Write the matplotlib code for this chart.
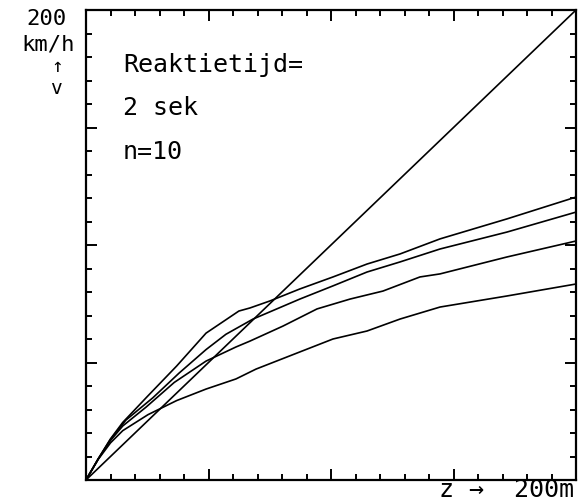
import matplotlib
matplotlib.use("Agg")
import matplotlib.pyplot as plt
from matplotlib.ticker import MultipleLocator

# afstand z [m] en snelheid v [km/h]
z_line = [0, 200]
v_line = [0, 200]

z_a = [0, 5, 10, 15, 25, 37, 49, 62.4, 66.9, 75.1, 87.3, 100.8, 114.7, 128.2, 144.5, 171.8, 200]
v_a = [0, 9, 17.5, 24.5, 35.5, 48.5, 62.5, 71.9, 73.2, 76.2, 81.3, 86.4, 91.9, 96.2, 102.6, 111.1, 120.4]

z_b = [0, 5, 10, 16.3, 27.3, 38.0, 49.0, 57.1, 68.2, 87.3, 100.8, 114.7, 128.2, 144.5, 171.8, 200]
v_b = [0, 9, 17.3, 25.5, 35.0, 45.5, 55.5, 62.0, 68.5, 77.0, 82.6, 88.5, 92.8, 98.3, 105.5, 114.0]

z_c = [0, 5, 10, 15, 24.5, 36, 49.0, 61.2, 66.9, 80.4, 94.3, 107.8, 121.2, 136.3, 144.5, 171.8, 200]
v_c = [0, 9, 16.8, 23.0, 31.0, 41.5, 50.6, 56.6, 59.1, 65.5, 72.8, 77.0, 80.4, 86.4, 87.7, 94.9, 101.7]

z_d = [0, 5, 10, 15, 25.3, 37, 49.0, 61.2, 69.4, 87.3, 100.8, 114.7, 128.2, 144.5, 171.8, 200]
v_d = [0, 8.8, 15.8, 21.0, 27.8, 33.8, 38.7, 43.0, 47.2, 54.5, 60.0, 63.4, 68.5, 73.6, 78.3, 83.4]

W, H = 584, 502
fig = plt.figure(figsize=(W / 100, H / 100), dpi=100)
ax = fig.add_axes([86 / W, 1 - 481 / H, 490 / W, 470 / H])

for z, v in [(z_line, v_line), (z_a, v_a), (z_b, v_b), (z_c, v_c), (z_d, v_d)]:
    ax.plot(z, v, color="black", lw=1.2)

ax.set_xlim(0, 200)
ax.set_ylim(0, 200)
ax.xaxis.set_major_locator(MultipleLocator(50))
ax.xaxis.set_minor_locator(MultipleLocator(10))
ax.yaxis.set_major_locator(MultipleLocator(50))
ax.yaxis.set_minor_locator(MultipleLocator(10))
ax.tick_params(which="both", direction="in", top=True, right=True,
               labelbottom=False, labelleft=False, width=1.4, color="black")
ax.tick_params(which="major", length=8)
ax.tick_params(which="minor", length=4.5)
for s in ax.spines.values():
    s.set_linewidth(1.6)

mono = dict(family="DejaVu Sans Mono", fontsize=18, color="black")


def ftext(px, py, s, ha="left", va="center", **kw):
    fig.text(px / W, 1 - py / H, s, ha=ha, va=va, **{**mono, **kw})


ftext(66, 19, "200", ha="right", fontsize=16)
ftext(48, 45, "km/h", ha="center", fontsize=16)
ftext(57, 66, "↑", ha="center", fontsize=14)
ftext(56, 89, "v", ha="center", fontsize=14)
ftext(123, 65, "Reaktietijd=")
ftext(123, 108, "2 sek")
ftext(123, 152, "n=10")
ftext(574, 490, "z →  200m", ha="right")

fig.savefig("out.png", dpi=100)
